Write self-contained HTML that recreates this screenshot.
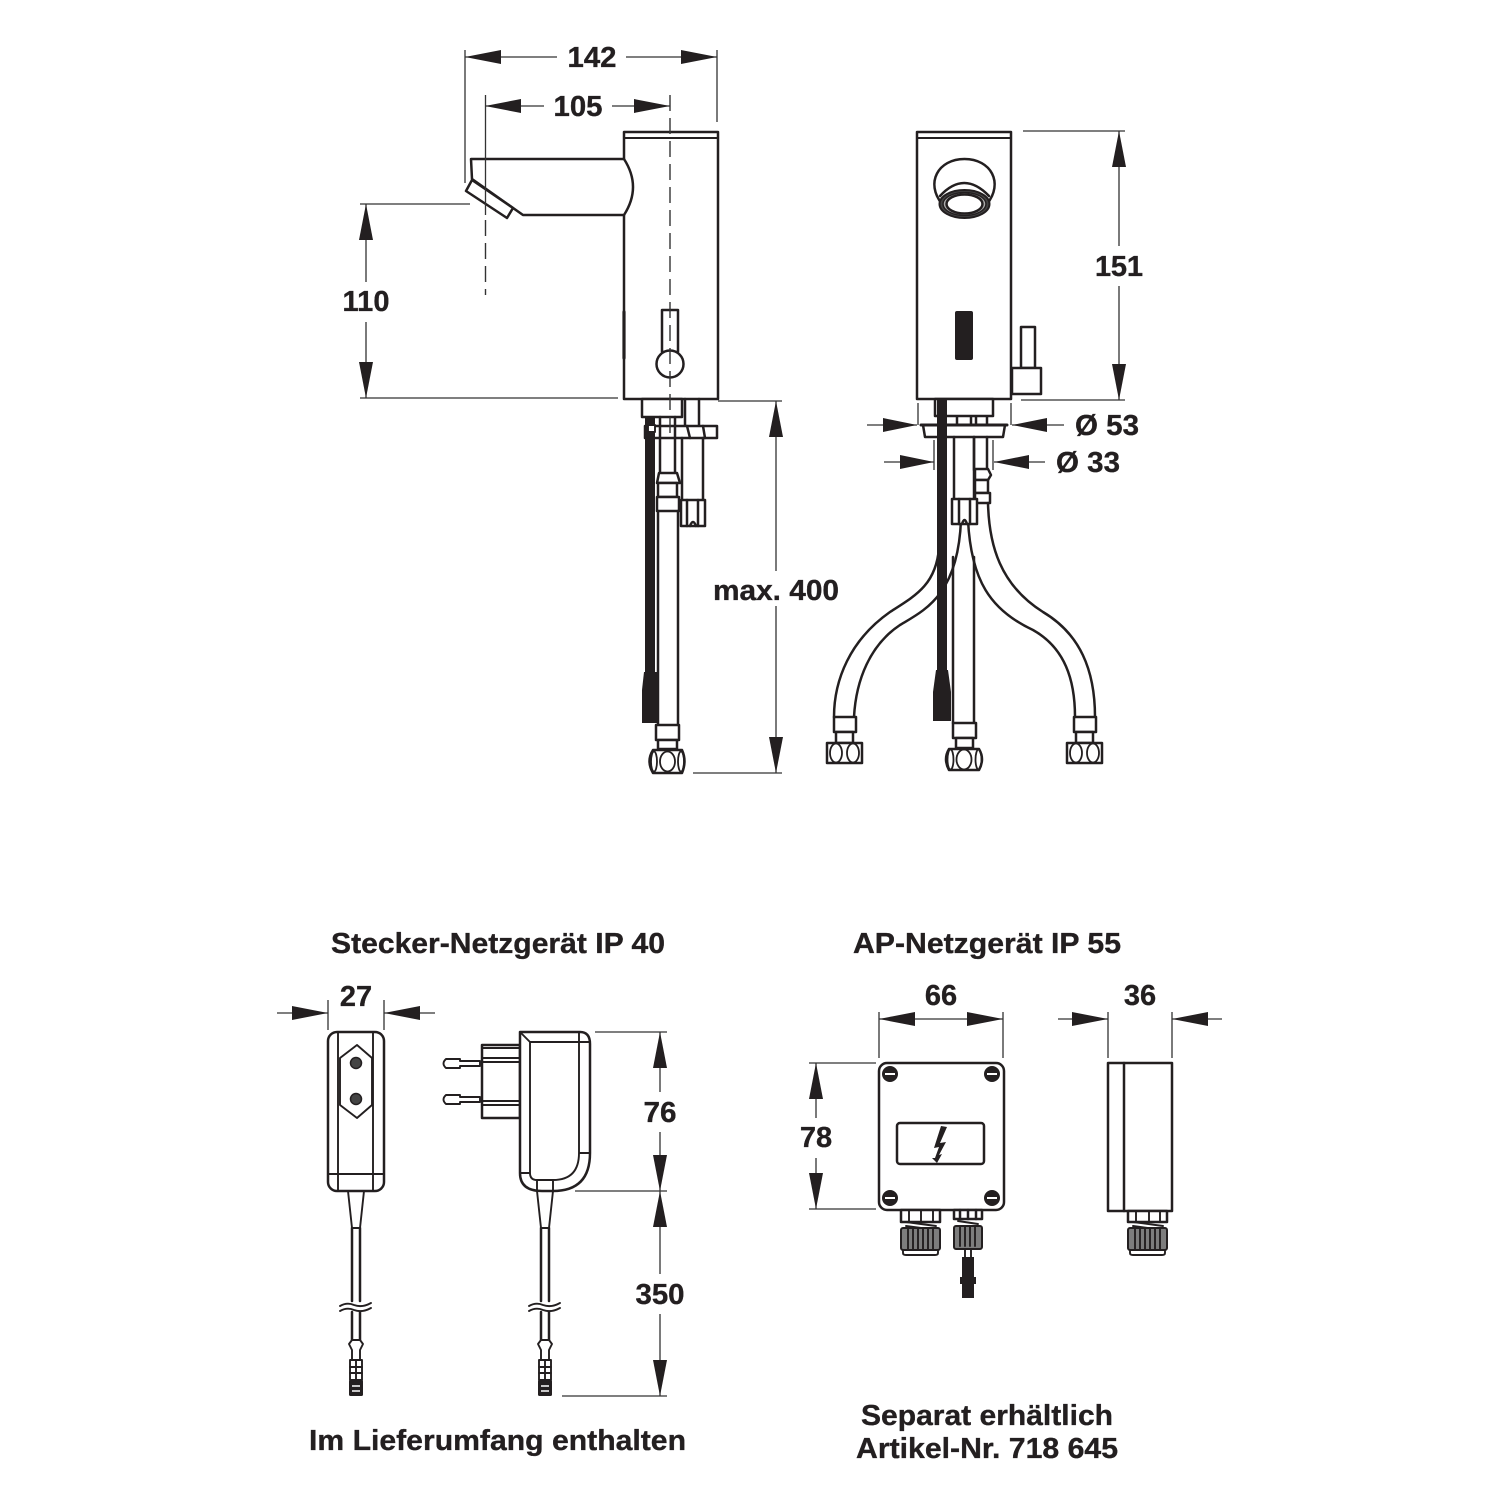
<!DOCTYPE html>
<html>
<head>
<meta charset="utf-8">
<style>
html,body{margin:0;padding:0;background:#fff;}
svg{display:block;}
text{font-family:"Liberation Sans",sans-serif;font-weight:bold;font-size:29px;fill:#231f20;stroke:#231f20;stroke-width:.35;}
.o{fill:none;stroke:#231f20;stroke-width:2.5;stroke-linejoin:round;stroke-linecap:round;}
.s{fill:none;stroke:#231f20;stroke-width:1.9;stroke-linejoin:round;stroke-linecap:round;}
.w{fill:#fff;stroke:#231f20;stroke-width:2.5;stroke-linejoin:round;}
.ws{fill:#fff;stroke:#231f20;stroke-width:1.9;stroke-linejoin:round;}
.t{fill:none;stroke:#231f20;stroke-width:1.8;}
.d{fill:none;stroke:#333;stroke-width:1.3;}
.dash{fill:none;stroke:#333;stroke-width:1.4;stroke-dasharray:16 7;}
.b{fill:#231f20;stroke:none;}
.g{fill:#7d7d7d;stroke:#231f20;stroke-width:2;}
</style>
</head>
<body>
<svg width="1500" height="1500" viewBox="0 0 1500 1500" xmlns="http://www.w3.org/2000/svg">
<rect width="1500" height="1500" fill="#fff"/>

<!-- LEFT FAUCET -->
<rect class="o" x="624" y="132" width="94" height="267"/>
<path class="s" d="M624 138H718"/>
<path class="w" d="M471 159H624Q642 187 624 215H523L472 179Z"/>
<path class="w" d="M472 180L466 191L507 218L513 208Z"/>
<rect class="w" x="662" y="310" width="16" height="42"/>
<circle class="w" cx="670" cy="364" r="13.5"/>
<path class="o" d="M624 312V358" style="stroke-width:3.200"/>
<!-- under body -->
<rect class="w" x="642" y="399" width="40" height="18"/>
<path class="o" d="M685 399V425M699 399V425"/>
<path class="o" d="M660 417V474M675 417V474"/>
<rect class="w" x="645" y="426" width="72" height="12"/>
<path class="o" d="M660 426V438M675 426V438M687 426L690 438M703 426L705 438"/>
<path class="o" d="M682 438V500M703 438V500"/>
<path class="w" d="M681 500H705V526H681Z"/>
<path class="o" d="M687 500V526M698 500V526M690 526Q693 518 696 526"/>
<path class="w" d="M659 473H677L680 483H657Z"/>
<rect class="w" x="658" y="483" width="19" height="14"/>
<rect class="w" x="657" y="497" width="22" height="14"/>
<path class="o" d="M658 511V725M678 511V725"/>
<rect class="b" x="645" y="417" width="10" height="256"/>
<rect class="ws" x="648" y="425" width="7" height="7"/>
<path class="b" d="M644 672H657V723H642V690Z"/>
<rect class="w" x="656" y="725" width="23" height="15"/>
<rect class="w" x="658" y="740" width="19" height="9"/>
<path class="w" d="M653 750H682Q687 761 682 773H653Q646 761 653 750Z"/>
<ellipse class="t" cx="667.500" cy="761.500" rx="7.500" ry="10"/>
<ellipse class="t" cx="654" cy="761.500" rx="3" ry="10"/>
<ellipse class="t" cx="681" cy="761.500" rx="3" ry="10"/>

<!-- RIGHT FAUCET -->
<rect class="o" x="917" y="132" width="94" height="267"/>
<path class="s" d="M917 138H1011"/>
<path class="o" d="M942 204C925 183 938 159 964.500 159C991 159 1004 183 987 204"/>
<path class="o" d="M940 196Q964 170 989 196"/>
<ellipse cx="964.500" cy="204" rx="25" ry="14" fill="#444" stroke="#231f20" stroke-width="2"/>
<ellipse cx="964.500" cy="204" rx="21.500" ry="11.500" fill="#aaa" stroke="#231f20" stroke-width="1.500"/>
<ellipse cx="964.500" cy="204" rx="18" ry="9.500" fill="#fff" stroke="#231f20" stroke-width="2.500"/>
<rect class="b" x="955" y="311" width="18" height="49" rx="2"/>
<rect class="w" x="1021" y="327" width="14" height="41"/>
<rect class="w" x="1012" y="368" width="29" height="26"/>
<!-- under right body -->
<rect class="w" x="935" y="399" width="58" height="17"/>
<path class="o" d="M957 417V425M971 417V425M976 417V425M987 417V425"/>
<path class="w" d="M923 425H1005L1003 437H925Z"/>
<path class="o" d="M921 425H1007" style="stroke-width:3"/>
<path class="o" d="M987 437V470M974 437V470"/>
<path class="o" d="M954 437V498M974 437V498"/>
<path class="w" d="M975 469H988L991 475L988 480H975Z"/>
<rect class="w" x="975" y="480" width="13" height="13"/>
<rect class="w" x="975" y="493" width="15" height="10"/>

<!-- hoses -->
<path class="o" d="M834 717C834 680 850 640 890 612C915 596 936 585 939 548"/>
<path class="o" d="M854 717C856 680 870 645 900 625C925 610 958 595 961 520"/>
<path class="o" d="M988 503C989 545 1000 585 1043 612C1080 634 1095 670 1095 717"/>
<path class="o" d="M968 520C971 580 990 610 1033 630C1065 648 1075 680 1075 717"/>
<path class="o" d="M953 557V723M974 557V723"/>
<!-- center nut top -->
<rect class="w" x="952" y="499" width="25" height="25"/>
<path class="o" d="M959 499V524M970 499V524M962 524Q964.500 516 967 524"/>
<rect class="b" x="937" y="399" width="10" height="272"/>
<path class="b" d="M936 670H948L951 692V721H933V692Z"/>
<!-- left fitting -->
<rect class="w" x="834" y="717" width="22" height="15"/>
<rect class="w" x="836" y="732" width="17" height="11"/>
<rect class="w" x="827" y="743" width="35" height="20"/>
<ellipse class="t" cx="836" cy="753" rx="6" ry="9.500"/>
<ellipse class="t" cx="853" cy="753" rx="6" ry="9.500"/>
<!-- right fitting -->
<rect class="w" x="1074" y="717" width="22" height="15"/>
<rect class="w" x="1076" y="732" width="17" height="11"/>
<rect class="w" x="1067" y="743" width="35" height="20"/>
<ellipse class="t" cx="1076" cy="753" rx="6" ry="9.500"/>
<ellipse class="t" cx="1093" cy="753" rx="6" ry="9.500"/>
<!-- center fitting -->
<rect class="w" x="953" y="723" width="23" height="15"/>
<rect class="w" x="956" y="738" width="17" height="10"/>
<path class="w" d="M949 749H979Q985 759 979 770H949Q943 759 949 749Z"/>
<ellipse class="t" cx="964" cy="759.500" rx="7.500" ry="10"/>
<ellipse class="t" cx="950.500" cy="759.500" rx="3" ry="10"/>
<ellipse class="t" cx="978.500" cy="759.500" rx="3" ry="10"/>

<!-- DIMENSIONS TOP -->
<path class="d" d="M465 50V183M717 50V122M485.500 95V215M465 57H557M626 57H717M485 106H544M612 106H670"/>
<path class="dash" d="M485.500 220V295M670 95V440"/>
<polygon class="b" points="465,57 501,50 501,64"/>
<polygon class="b" points="717,57 681,50 681,64"/>
<polygon class="b" points="485,106 521,99 521,113"/>
<polygon class="b" points="670,106 634,99 634,113"/>
<text x="592" y="67" text-anchor="middle" textLength="49" lengthAdjust="spacingAndGlyphs">142</text>
<text x="578" y="116" text-anchor="middle" textLength="49" lengthAdjust="spacingAndGlyphs">105</text>

<path class="d" d="M360 204H470M360 398H618M366 204V282M366 322V398"/>
<polygon class="b" points="366,204 359,240 373,240"/>
<polygon class="b" points="366,398 359,362 373,362"/>
<text x="366" y="311" text-anchor="middle" textLength="47" lengthAdjust="spacing">110</text>

<path class="d" d="M1023 131H1125M1021 400H1125M1119 131V246M1119 286V400"/>
<polygon class="b" points="1119,131 1112,167 1126,167"/>
<polygon class="b" points="1119,400 1112,364 1126,364"/>
<text x="1119" y="276" text-anchor="middle" textLength="48" lengthAdjust="spacing">151</text>

<path class="d" d="M718 401H782M693 773H782M776 401V571M776 606V773"/>
<polygon class="b" points="776,401 769,437 783,437"/>
<polygon class="b" points="776,773 769,737 783,737"/>
<text x="713" y="600" textLength="126" lengthAdjust="spacingAndGlyphs">max. 400</text>

<path class="d" d="M867 425H917M1012 425H1064M918 403V425M1011 403V425M884 462H934M994 462H1045M934 440V470M993 440V470"/>
<polygon class="b" points="917,425 883,418 883,432"/>
<polygon class="b" points="1012,425 1047,418 1047,432"/>
<polygon class="b" points="934,462 900,455 900,469"/>
<polygon class="b" points="994,462 1029,455 1029,469"/>
<text x="1075" y="435" textLength="64" lengthAdjust="spacingAndGlyphs">Ø 53</text>
<text x="1056" y="472" textLength="64" lengthAdjust="spacingAndGlyphs">Ø 33</text>

<!-- TITLES -->
<text x="331" y="953" textLength="334" lengthAdjust="spacingAndGlyphs">Stecker-Netzgerät IP 40</text>
<text x="853" y="953" textLength="268" lengthAdjust="spacingAndGlyphs">AP-Netzgerät IP 55</text>
<text x="309" y="1450" textLength="377" lengthAdjust="spacingAndGlyphs">Im Lieferumfang enthalten</text>
<text x="861" y="1425" textLength="252" lengthAdjust="spacingAndGlyphs">Separat erhältlich</text>
<text x="856" y="1458" textLength="262" lengthAdjust="spacingAndGlyphs">Artikel-Nr. 718 645</text>

<!-- PLUG FRONT -->
<rect class="o" x="328" y="1032" width="56" height="159" rx="9"/>
<path class="s" d="M338 1032V1191M373 1032V1191M328 1174H384"/>
<path class="s" d="M357 1045L372 1058V1105L357 1118L340 1105V1058Z"/>
<circle cx="356" cy="1063" r="5.500" fill="#444" stroke="#231f20" stroke-width="1.500"/>
<circle cx="356" cy="1099" r="5.500" fill="#444" stroke="#231f20" stroke-width="1.500"/>
<path class="s" d="M348 1191L352 1228H360L364 1191"/>
<path class="o" d="M352 1228V1301M360 1228V1301M352 1312V1340M360 1312V1340"/>
<path class="s" d="M340 1306Q347 1302 354 1305Q362 1308 371 1303M340 1311Q347 1307 354 1310Q362 1313 371 1308"/>
<path class="ws" d="M352 1340H360L363 1344L360 1350V1360H352V1350L349 1344Z"/>
<rect class="ws" x="350" y="1360" width="12" height="20"/>
<path class="s" d="M356 1360V1380M350 1367H362M350 1373H362"/>
<rect class="b" x="349" y="1380" width="14" height="16" rx="1.500"/>
<path d="M352 1386H360M352 1391H360" stroke="#fff" stroke-width="1.500"/>

<!-- PLUG SIDE -->
<rect class="w" x="482" y="1045" width="38" height="73"/>
<path class="s" d="M482 1048H520M482 1058H520M482 1062H520M482 1101H520M482 1105H520"/>
<path class="ws" d="M446 1059H460V1061H480V1066H460V1068H446Q441 1063.500 446 1059Z"/>
<path class="ws" d="M446 1095H460V1097H480V1102H460V1104H446Q441 1099.500 446 1095Z"/>
<path class="w" d="M520 1032H580Q590 1032 590 1044V1153Q590 1191 553 1191H542Q520 1191 520 1173Z"/>
<path class="s" d="M520 1032L530 1042H590M579 1032V1153M590 1153H579M579 1153Q579 1180 553 1180H537Q530 1180 530 1173V1042M520 1173H530M537 1180V1191M553 1180V1191"/>
<path class="s" d="M537 1191L541 1228H549L553 1191"/>
<path class="o" d="M541 1228V1301M549 1228V1301M541 1312V1340M549 1312V1340"/>
<path class="s" d="M529 1306Q536 1302 543 1305Q551 1308 560 1303M529 1311Q536 1307 543 1310Q551 1313 560 1308"/>
<path class="ws" d="M541 1340H549L552 1344L549 1350V1360H541V1350L538 1344Z"/>
<rect class="ws" x="539" y="1360" width="12" height="20"/>
<path class="s" d="M545 1360V1380M539 1367H551M539 1373H551"/>
<rect class="b" x="538" y="1380" width="14" height="16" rx="1.500"/>
<path d="M541 1386H549M541 1391H549" stroke="#fff" stroke-width="1.500"/>

<!-- DIM plug -->
<path class="d" d="M277 1013H328M384 1013H435M328 1000V1030M384 1000V1030"/>
<polygon class="b" points="328,1013 292,1006 292,1020"/>
<polygon class="b" points="384,1013 420,1006 420,1020"/>
<text x="356" y="1006" text-anchor="middle">27</text>
<path class="d" d="M595 1032H667M575 1191H667M562 1396H667M660 1032V1092M660 1132V1274M660 1314V1396"/>
<polygon class="b" points="660,1032 653,1068 667,1068"/>
<polygon class="b" points="660,1191 653,1155 667,1155"/>
<polygon class="b" points="660,1191 653,1227 667,1227"/>
<polygon class="b" points="660,1396 653,1360 667,1360"/>
<text x="660" y="1122" text-anchor="middle" textLength="33" lengthAdjust="spacingAndGlyphs">76</text>
<text x="660" y="1304" text-anchor="middle" textLength="49" lengthAdjust="spacingAndGlyphs">350</text>

<!-- AP BOX -->
<rect class="o" x="879" y="1063" width="125" height="147" rx="8"/>
<g>
<circle cx="890" cy="1074" r="8" class="b"/><rect x="885" y="1073" width="10" height="2" fill="#fff"/>
<circle cx="992" cy="1074" r="8" class="b"/><rect x="987" y="1073" width="10" height="2" fill="#fff"/>
<circle cx="890" cy="1198" r="8" class="b"/><rect x="885" y="1197" width="10" height="2" fill="#fff"/>
<circle cx="992" cy="1198" r="8" class="b"/><rect x="987" y="1197" width="10" height="2" fill="#fff"/>
</g>
<rect class="o" x="897" y="1123" width="87" height="41" rx="3"/>
<polygon class="b" points="941,1126 934,1148 939,1147 935,1158 932,1158 937,1163 942,1154 939,1155 946,1142 940,1143 947,1127"/>
<!-- left gland -->
<rect class="w" x="901" y="1210" width="39" height="12"/>
<path class="s" d="M909 1210V1222M921 1210V1222M933 1210V1222"/>
<path class="s" d="M906 1222L936 1226M906 1226L936 1230"/>
<rect class="g" x="901" y="1228" width="39" height="22" rx="2"/>
<path class="s" d="M908 1229V1250M913 1229V1250M918 1229V1250M923 1229V1250M928 1229V1250M933 1229V1250"/>
<path class="ws" d="M903 1250H938V1253Q938 1255 935 1255H906Q903 1255 903 1253Z"/>
<!-- middle gland -->
<rect class="w" x="954" y="1210" width="28" height="9"/>
<path class="o" d="M960 1210V1219M968 1210V1219M976 1210V1219"/>
<path class="s" d="M958 1221L978 1224"/>
<rect class="g" x="954" y="1226" width="28" height="23" rx="2"/>
<path class="s" d="M960 1227V1246M965 1227V1246M970 1227V1246M975 1227V1246"/>
<path class="s" d="M965 1249V1258M971 1249V1258"/>
<rect class="b" x="962" y="1257" width="12" height="41"/>
<rect class="b" x="960" y="1277" width="16" height="7"/>
<!-- side box -->
<rect class="o" x="1108" y="1063" width="64" height="148"/>
<path class="o" d="M1124 1063V1211"/>
<rect class="w" x="1128" y="1211" width="39" height="11"/>
<path class="s" d="M1136 1211V1222M1149 1211V1222M1160 1211V1222"/>
<path class="s" d="M1133 1222L1163 1226M1133 1226L1163 1230"/>
<rect class="g" x="1128" y="1228" width="39" height="22" rx="2"/>
<path class="s" d="M1135 1229V1250M1140 1229V1250M1145 1229V1250M1150 1229V1250M1155 1229V1250M1160 1229V1250"/>
<path class="ws" d="M1130 1250H1165V1253Q1165 1255 1162 1255H1133Q1130 1255 1130 1253Z"/>

<!-- DIM AP -->
<path class="d" d="M879 1012V1058M1003 1012V1058M879 1019H1003M1108 1012V1058M1172 1012V1058M1058 1019H1108M1172 1019H1222"/>
<polygon class="b" points="879,1019 915,1012 915,1026"/>
<polygon class="b" points="1003,1019 967,1012 967,1026"/>
<polygon class="b" points="1108,1019 1072,1012 1072,1026"/>
<polygon class="b" points="1172,1019 1208,1012 1208,1026"/>
<text x="941" y="1005" text-anchor="middle">66</text>
<text x="1140" y="1005" text-anchor="middle">36</text>
<path class="d" d="M809 1063H876M809 1209H876M816 1063V1118M816 1158V1209"/>
<polygon class="b" points="816,1063 809,1099 823,1099"/>
<polygon class="b" points="816,1209 809,1173 823,1173"/>
<text x="816" y="1147" text-anchor="middle">78</text>
</svg>
</body>
</html>
